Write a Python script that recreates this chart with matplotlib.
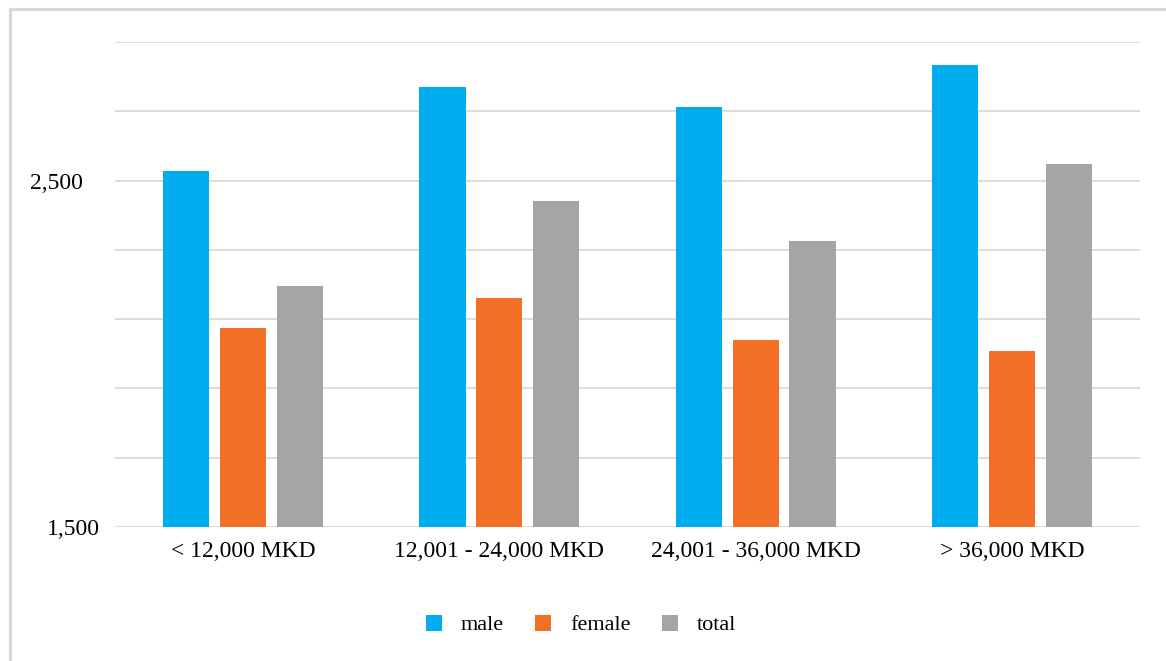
import matplotlib
matplotlib.use("Agg")
import matplotlib.pyplot as plt
from matplotlib.patches import Rectangle
import numpy as np

categories = ["< 12,000 MKD", "12,001 - 24,000 MKD", "24,001 - 36,000 MKD", "> 36,000 MKD"]
series_names = ["male", "female", "total"]
male = [2529, 2770, 2711, 2833]
female = [2073, 2162, 2041, 2008]
total = [2197, 2440, 2327, 2547]
y_labels = {1500: "1,500", 2500: "2,500"}

colors = ["#00AEEF", "#F26F26", "#A5A5A5"]
plt.rcParams["font.family"] = ["Liberation Serif", "DejaVu Serif"]

fig = plt.figure(figsize=(11.66, 6.61), dpi=100)
ax = fig.add_axes([115 / 1166, 1 - 527 / 661, 1025 / 1166, 485 / 661])

x = np.arange(len(categories))
width = 0.18
step = 0.222
for i, (vals, name) in enumerate(zip([male, female, total], series_names)):
    ax.bar(x + (i - 1) * step, vals, width=width, color=colors[i],
           label=name, zorder=3)

ax.set_xlim(-0.5, len(categories) - 0.5)
ax.set_ylim(1500, 2900)
ticks = np.arange(1500, 2901, 200)
ax.set_yticks(ticks)
ax.set_yticklabels([y_labels.get(int(t), "") for t in ticks], fontsize=17)
ax.yaxis.grid(True, color="#D9D9D9", linewidth=1.3, zorder=0)
ax.tick_params(axis="y", length=0)
for t, tick in zip(ticks, ax.yaxis.get_major_ticks()):
    tick.set_pad(11 if t == 1500 else 23)

ax.set_xticks(x)
ax.set_xticklabels(categories, fontsize=17)
ax.tick_params(axis="x", length=0, pad=10)

for s in ax.spines.values():
    s.set_visible(False)

fig.legend(loc="center", bbox_to_anchor=(581 / 1166, 1 - 625 / 661), ncol=3,
           frameon=False, fontsize=16, handlelength=0.72, handleheight=0.72,
           columnspacing=1.4, handletextpad=0.85)

# outer frame of the chart area
fig.patches.append(Rectangle((9.5 / 1166, -0.2), 1.3, 1.2 - 9 / 661,
                             transform=fig.transFigure, fill=False,
                             edgecolor="#D9D9D9", linewidth=2.2))

fig.savefig("out.png", dpi=100, facecolor="white")
